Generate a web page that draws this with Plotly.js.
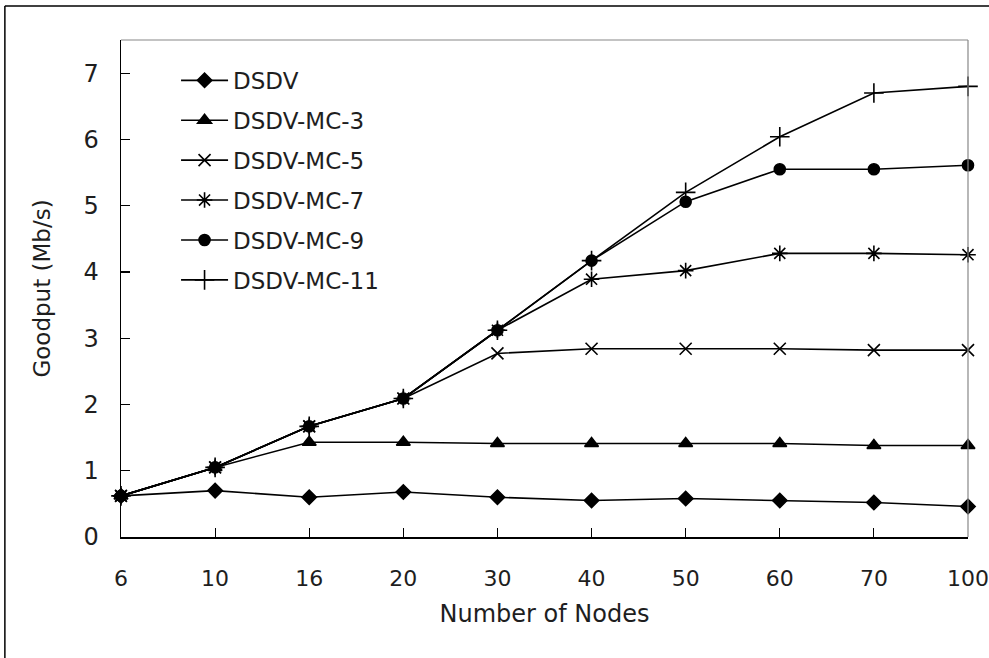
<!DOCTYPE html>
<html>
<head>
<meta charset="utf-8">
<script src="https://cdn.plot.ly/plotly-3.0.1.min.js"></script>
<style>html,body{margin:0;padding:0;background:#fff;}#chart{width:989px;height:658px;}</style>
</head>
<body>
<div id="chart"></div>
<script>
var nodes = ["6","10","16","20","30","40","50","60","70","100"];
var seriesNames = ["DSDV","DSDV-MC-3","DSDV-MC-5","DSDV-MC-7","DSDV-MC-9","DSDV-MC-11"];
var dsdv   = [0.62,0.70,0.60,0.68,0.60,0.55,0.58,0.55,0.52,0.46];
var mc3    = [0.62,1.05,1.43,1.43,1.41,1.41,1.41,1.41,1.38,1.38];
var mc5    = [0.62,1.05,1.67,2.09,2.77,2.84,2.84,2.84,2.82,2.82];
var mc7    = [0.62,1.05,1.67,2.09,3.12,3.89,4.02,4.28,4.28,4.26];
var mc9    = [0.62,1.05,1.67,2.09,3.12,4.17,5.06,5.55,5.55,5.61];
var mc11   = [0.62,1.05,1.67,2.09,3.12,4.17,5.20,6.04,6.70,6.80];
var yTicks = [0,1,2,3,4,5,6,7];

var allSeries = [dsdv, mc3, mc5, mc7, mc9, mc11];
var symbols = ["diamond","triangle-up","x-thin-open","asterisk-open","circle","cross-thin-open"];
var sizes = [11,12,12,13,11,14];

var traces = allSeries.map(function(vals, i){
  return {
    x: nodes, y: vals, name: seriesNames[i], type: "scatter", mode: "lines+markers",
    legendgroup: "g"+i, cliponaxis: false,
    line: {color: "#000", width: 1.6},
    marker: {symbol: symbols[i], size: sizes[i], color: "#000", line: {color: "#000", width: 1.6}}
  };
});

var fontFam = "DejaVu Sans, Verdana, sans-serif";
var txtCol = "#1e1e1e";
var layout = {
  width: 989, height: 658,
  margin: {l: 121, r: 21, t: 40, b: 121},
  paper_bgcolor: "#fff", plot_bgcolor: "#fff",
  showlegend: true,
  font: {family: fontFam, size: 23, color: txtCol},
  legend: {x: 0.065, y: 0.962, xanchor: "left", yanchor: "top", bgcolor: "rgba(0,0,0,0)",
           traceorder: "grouped", tracegroupgap: 7, itemwidth: 47,
           font: {family: fontFam, size: 23, color: txtCol}},
  xaxis: {type: "category", range: [0, 9], showgrid: false, zeroline: false,
          showline: true, linecolor: "#000", linewidth: 1.5,
          ticks: "inside", ticklen: 9, tickcolor: "#000", tickwidth: 1.2,
          ticklabelstandoff: 21,
          tickfont: {family: fontFam, size: 22, color: txtCol},
          title: {text: "Number of Nodes", font: {family: fontFam, size: 24, color: txtCol}, standoff: 15}},
  yaxis: {range: [0, 7.5], tickvals: yTicks, ticktext: yTicks.map(String), showgrid: false, zeroline: false,
          showline: true, linecolor: "#000", linewidth: 1.5,
          ticks: "inside", ticklen: 9, tickcolor: "#000", tickwidth: 1.2,
          ticklabelstandoff: 16,
          tickfont: {family: fontFam, size: 24, color: txtCol},
          title: {text: "Goodput (Mb/s)", font: {family: fontFam, size: 23, color: txtCol}, standoff: 26}},
  shapes: [
    {type: "line", xref: "paper", yref: "paper", x0: 0, x1: 1, y0: 1, y1: 1, line: {color: "#888", width: 1.2}},
    {type: "line", xref: "paper", yref: "paper", x0: 1, x1: 1, y0: 0, y1: 1, line: {color: "#888", width: 1.2}},
    {type: "line", xref: "paper", yref: "paper", x0: -0.1371, x1: 1.1, y0: 1.0684, y1: 1.0684, line: {color: "#000", width: 1.5}},
    {type: "line", xref: "paper", yref: "paper", x0: -0.1371, x1: -0.1371, y0: -0.3, y1: 1.0684, line: {color: "#000", width: 1.5}}
  ]
};

Plotly.newPlot("chart", traces, layout, {displayModeBar: false, staticPlot: true});
</script>
</body>
</html>
